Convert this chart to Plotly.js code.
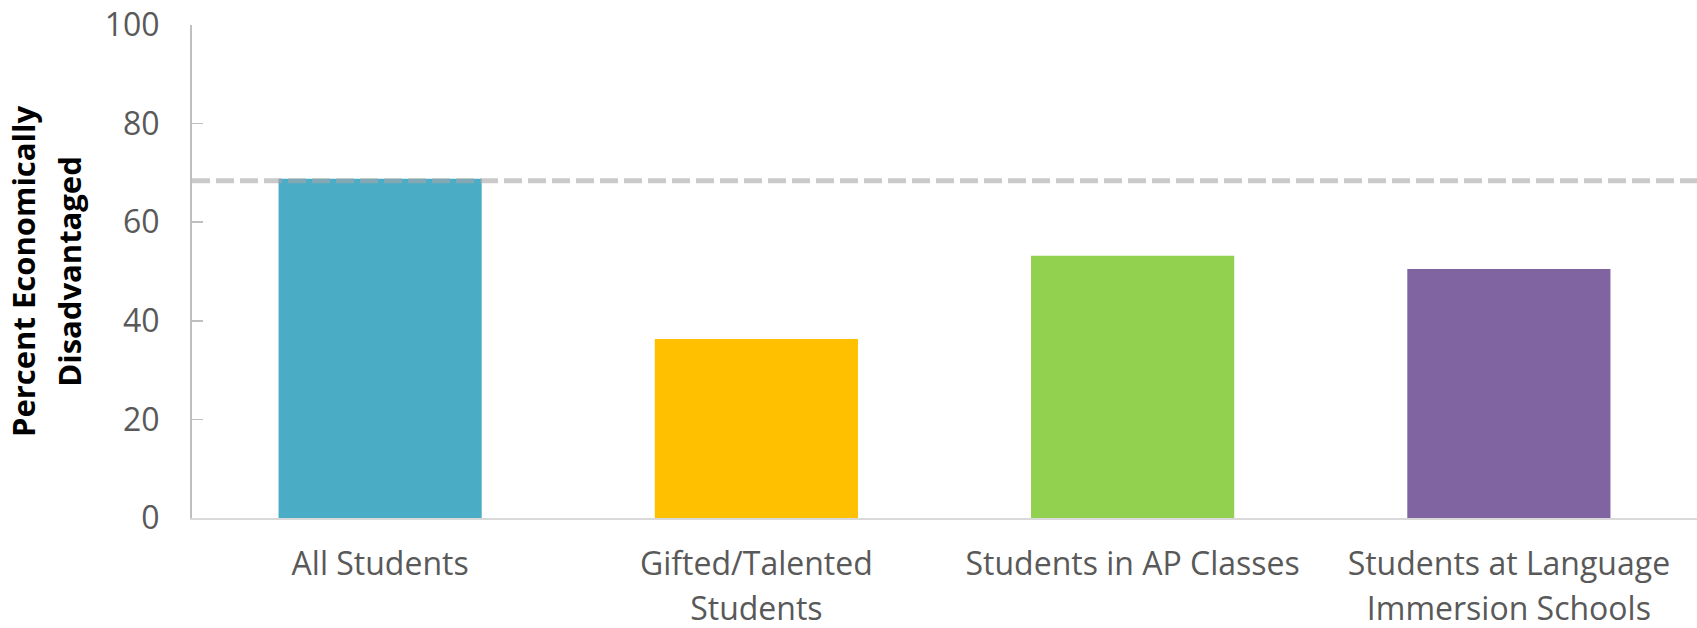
<!DOCTYPE html>
<html>
<head>
<meta charset="utf-8">
<script src="https://cdn.plot.ly/plotly-3.0.1.min.js"></script>
<style>
  html, body { margin: 0; padding: 0; background: #ffffff; }
  #chart { width: 1697px; height: 628px; }
</style>
</head>
<body>
<div id="chart"></div>
<script>
// Data
const categories = [
  "All Students",
  "Gifted/Talented<br>Students",
  "Students in AP Classes",
  "Students at Language<br>Immersion Schools"
];
const percentDisadvantaged = [68.8, 36.3, 53.2, 50.5];
const barColors = ["#4BACC6", "#FFC000", "#92D050", "#8064A2"];
const referenceLevel = 68.4;   // dashed line: all students level
const yTickValues = [0, 20, 40, 60, 80, 100];

const trace = {
  type: "bar",
  x: categories,
  y: percentDisadvantaged,
  marker: { color: barColors, line: { width: 0 } },
  hoverinfo: "x+y",
  showlegend: false
};

const layout = {
  width: 1697,
  height: 628,
  margin: { l: 192, r: 0, t: 25, b: 110, pad: 0 },
  paper_bgcolor: "#ffffff",
  plot_bgcolor: "#ffffff",
  bargap: 0.46,
  font: { family: "Open Sans, sans-serif", size: 32, color: "#595959" },
  xaxis: {
    type: "category",
    showgrid: false,
    zeroline: false,
    showline: true,
    linecolor: "#d9d9d9",
    linewidth: 2,
    ticks: "",
    ticklabelstandoff: 17,
    tickfont: { family: "Open Sans, sans-serif", size: 32, color: "#595959" },
    fixedrange: true
  },
  yaxis: {
    range: [0, 100],
    tickvals: yTickValues,
    showgrid: false,
    zeroline: false,
    showline: true,
    linecolor: "#bfbfbf",
    linewidth: 2,
    ticks: "inside",
    ticklen: 11,
    tickwidth: 1.5,
    tickcolor: "#bfbfbf",
    ticklabelstandoff: 24,
    tickfont: { family: "Open Sans, sans-serif", size: 32, color: "#595959" },
    title: {
      text: "Percent Economically<br>Disadvantaged",
      font: { family: "Open Sans, sans-serif", size: 31, color: "#000000", weight: "bold" },
      standoff: 20
    },
    fixedrange: true
  },
  shapes: [{
    type: "line",
    xref: "paper",
    yref: "y",
    x0: 0,
    x1: 1,
    y0: referenceLevel,
    y1: referenceLevel,
    line: { color: "rgba(166,166,166,0.6)", width: 5, dash: "18px,6px" },
    layer: "above"
  }]
};

Plotly.newPlot("chart", [trace], layout, { displayModeBar: false, staticPlot: true }).then(function () {
  // widen line spacing of multi-line labels to match the reference
  document.querySelectorAll(".xtick text tspan.line").forEach(function (t) {
    const dy = parseFloat(t.getAttribute("dy"));
    if (dy > 0) t.setAttribute("dy", "1.4em");
  });
  document.querySelectorAll(".g-ytitle text tspan.line").forEach(function (t) {
    const dy = parseFloat(t.getAttribute("dy"));
    if (dy > 0) t.setAttribute("dy", "1.5em");
  });
});
</script>
</body>
</html>
